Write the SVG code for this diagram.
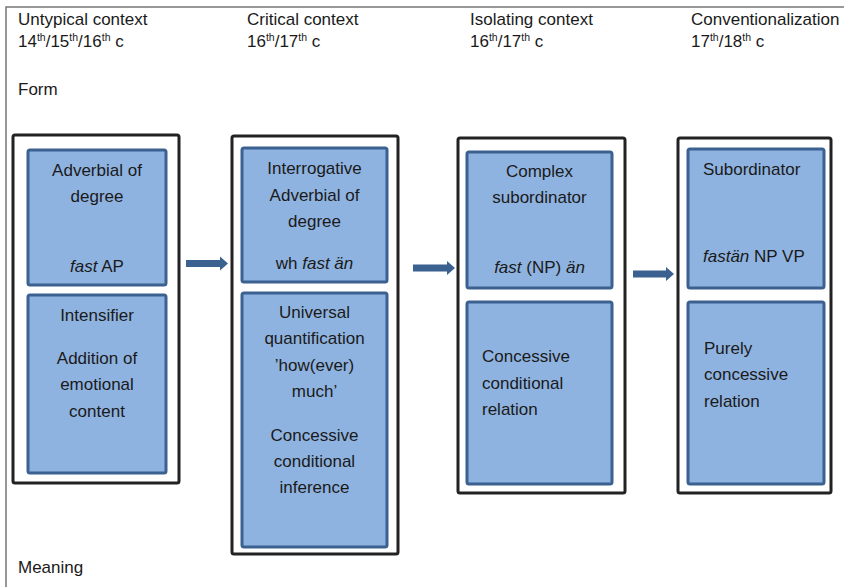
<svg xmlns="http://www.w3.org/2000/svg" width="844" height="587" viewBox="0 0 844 587">
<style>
text{font-family:"Liberation Sans",Arial,sans-serif;font-size:17px;fill:#1a1a1a}
.c{text-anchor:middle}
.i{font-style:italic}
.sup{font-size:10.5px}
.outer{fill:#fff;stroke:#222;stroke-width:3}
.inner{fill:#8fb3e0;stroke:#3a6190;stroke-width:3}
.arrow{fill:#3a6190}
.frame{stroke:#777;stroke-width:1.5;fill:none}
</style>
<rect width="844" height="587" fill="#fff"/>
<path class="frame" d="M6,587 V7 H844"/>
<g id="headers">
<text x="18" y="25">Untypical context</text>
<text x="18" y="47">14<tspan class="sup" dy="-6">th</tspan><tspan dy="6">/15</tspan><tspan class="sup" dy="-6">th</tspan><tspan dy="6">/16</tspan><tspan class="sup" dy="-6">th</tspan><tspan dy="6"> c</tspan></text>
<text x="247" y="25">Critical context</text>
<text x="247" y="47">16<tspan class="sup" dy="-6">th</tspan><tspan dy="6">/17</tspan><tspan class="sup" dy="-6">th</tspan><tspan dy="6"> c</tspan></text>
<text x="470" y="25">Isolating context</text>
<text x="470" y="47">16<tspan class="sup" dy="-6">th</tspan><tspan dy="6">/17</tspan><tspan class="sup" dy="-6">th</tspan><tspan dy="6"> c</tspan></text>
<text x="691" y="25">Conventionalization</text>
<text x="691" y="47">17<tspan class="sup" dy="-6">th</tspan><tspan dy="6">/18</tspan><tspan class="sup" dy="-6">th</tspan><tspan dy="6"> c</tspan></text>
<text x="18" y="95">Form</text>
<text x="18" y="573">Meaning</text>
</g>
<g id="stage1">
<rect class="outer" x="13" y="135" width="166" height="348" rx="2"/>
<g id="stage1-form">
<rect class="inner" x="28" y="150" width="138" height="135" rx="2"/>
<text class="c" x="97" y="176">Adverbial of</text>
<text class="c" x="97" y="202">degree</text>
<text class="c" x="97" y="272"><tspan class="i">fast</tspan> AP</text>
</g>
<g id="stage1-meaning">
<rect class="inner" x="28" y="295" width="138" height="178" rx="2"/>
<text class="c" x="97" y="321">Intensifier</text>
<text class="c" x="97" y="364">Addition of</text>
<text class="c" x="97" y="390">emotional</text>
<text class="c" x="97" y="417">content</text>
</g>
</g>
<g id="stage2">
<rect class="outer" x="232" y="136" width="166" height="418" rx="2"/>
<g id="stage2-form">
<rect class="inner" x="242" y="148" width="145" height="134" rx="2"/>
<text class="c" x="314.5" y="174">Interrogative</text>
<text class="c" x="314.5" y="201">Adverbial of</text>
<text class="c" x="314.5" y="227">degree</text>
<text class="c" x="314.5" y="269">wh <tspan class="i">fast än</tspan></text>
</g>
<g id="stage2-meaning">
<rect class="inner" x="242" y="293" width="145" height="254" rx="2"/>
<text class="c" x="314.5" y="318">Universal</text>
<text class="c" x="314.5" y="344">quantification</text>
<text class="c" x="314.5" y="371">’how(ever)</text>
<text class="c" x="314.5" y="397">much’</text>
<text class="c" x="314.5" y="441">Concessive</text>
<text class="c" x="314.5" y="467">conditional</text>
<text class="c" x="314.5" y="493">inference</text>
</g>
</g>
<g id="stage3">
<rect class="outer" x="458" y="138" width="167" height="355" rx="2"/>
<g id="stage3-form">
<rect class="inner" x="467" y="152" width="145" height="136" rx="2"/>
<text class="c" x="539.5" y="177">Complex</text>
<text class="c" x="539.5" y="203">subordinator</text>
<text class="c" x="539.5" y="273"><tspan class="i">fast</tspan> (NP) <tspan class="i">än</tspan></text>
</g>
<g id="stage3-meaning">
<rect class="inner" x="467" y="302" width="145" height="182" rx="2"/>
<text x="482" y="362">Concessive</text>
<text x="482" y="389">conditional</text>
<text x="482" y="415">relation</text>
</g>
</g>
<g id="stage4">
<rect class="outer" x="678" y="138" width="153" height="355" rx="2"/>
<g id="stage4-form">
<rect class="inner" x="688" y="149" width="136" height="139" rx="2"/>
<text x="703" y="175">Subordinator</text>
<text x="703" y="262"><tspan class="i">fastän</tspan> NP VP</text>
</g>
<g id="stage4-meaning">
<rect class="inner" x="688" y="302" width="136" height="182" rx="2"/>
<text x="704" y="354">Purely</text>
<text x="704" y="380">concessive</text>
<text x="704" y="407">relation</text>
</g>
</g>
<g id="connectors">
<path class="arrow" d="M186,260 H220 V256.5 L228,263.5 L220,270.5 V267 H186 Z"/>
<path class="arrow" d="M413,264.5 H447 V261 L455,268 L447,275 V271.5 H413 Z"/>
<path class="arrow" d="M633,270.5 H666 V267 L674,274 L666,281 V277.5 H633 Z"/>
</g>
</svg>
